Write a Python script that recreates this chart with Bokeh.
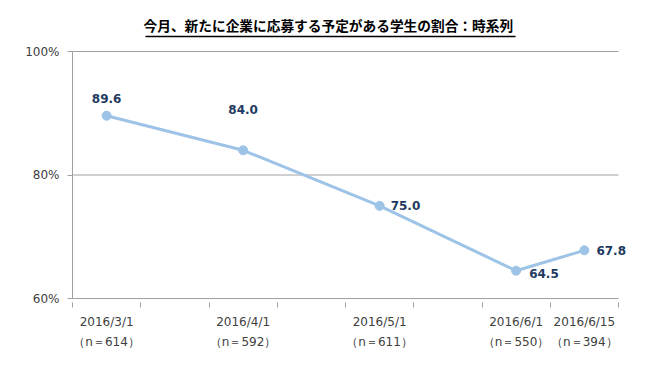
from bokeh.plotting import figure
from bokeh.models import Range1d, FixedTicker, LinearAxis, ColumnDataSource, LabelSet
from bokeh.core.properties import value
from bokeh.embed import file_html
from bokeh.resources import INLINE

# ---- data ----
title_text = "今月、新たに企業に応募する予定がある学生の割合：時系列"
dates = ["2016/3/1", "2016/4/1", "2016/5/1", "2016/6/1", "2016/6/15"]
sample_sizes = ["（n＝614）", "（n＝592）", "（n＝611）", "（n＝550）", "（n＝394）"]
half_month_slot = [0, 2, 4, 6, 7]          # position on a half-month category axis (3/1 .. 6/15)
n_slots = 8
values = [89.6, 84.0, 75.0, 64.5, 67.8]
y_ticks = [60, 80, 100]
y_tick_labels = ["60%", "80%", "100%"]

# ---- styling / layout ----
LINE = "#9DC3E6"
LABEL_COLOR = "#1F3A60"
AXIS_TEXT = "#404040"
GRID = "#A0A0A0"
FONT = "DejaVu Sans"
lbl_dx = [0, 0, 11, 13, 12]
lbl_dy = [17, 41, 0, -3, 0]
lbl_align = ["center", "center", "left", "left", "left"]

W, H = 634, 351
LEFT, AXIS_RIGHT = 72, 618
Y_TOP_PX, Y_BOT_PX = 51, 298          # pixel rows of 100% and 60%
PAD = 2                               # frame padding so edge gridlines are not clipped
slot_px = (AXIS_RIGHT - LEFT) / n_slots
x_end = (W - LEFT) / slot_px            # frame runs to the canvas edge so labels are not clipped
y0, y1 = y_ticks[0], y_ticks[-1]
px_per_y = (Y_BOT_PX - Y_TOP_PX) / (y1 - y0)
pad_y = PAD / px_per_y

xs = [s + 0.5 for s in half_month_slot]

p = figure(width=W, height=H, output_backend="svg", toolbar_location=None,
           x_range=Range1d(0, x_end), y_range=Range1d(y0 - pad_y, y1 + pad_y),
           min_border_left=LEFT, min_border_right=0,
           min_border_top=Y_TOP_PX - PAD, min_border_bottom=H - Y_BOT_PX - PAD,
           x_axis_type=None, y_axis_type=None, title=title_text)
p.outline_line_color = None
p.background_fill_color = "white"
p.title.align = "left"
p.title.offset = 71
p.title.text_font = "Noto Sans CJK JP"
p.title.text_font_size = "13.7px"
p.title.text_font_style = "bold"
p.title.text_color = "black"
p.title.standoff = 3

# spacer panel between frame and title underline (white tick in an empty corner)
spacer = LinearAxis(ticker=FixedTicker(ticks=[x_end - 0.05], minor_ticks=[]))
spacer.axis_line_color = None
spacer.major_tick_line_color = "white"
spacer.major_tick_in = 0
spacer.major_tick_out = 13
spacer.major_label_overrides = {x_end - 0.05: ""}
spacer.major_label_standoff = 0
spacer.major_label_text_font_size = "0px"
p.add_layout(spacer, "above")

# title underline: an axis line limited by bounds
ul_left, ul_right = 145, 515
ul = LinearAxis(ticker=FixedTicker(ticks=[], minor_ticks=[]),
                bounds=((ul_left - LEFT) / slot_px, (ul_right - LEFT) / slot_px))
ul.axis_line_color = "black"
ul.axis_line_width = 1.5
ul.major_tick_line_color = None
ul.minor_tick_line_color = None
ul.major_label_text_font_size = "0px"
ul.major_label_standoff = 0
p.add_layout(ul, "above")

# y axis
yax = LinearAxis(ticker=FixedTicker(ticks=y_ticks, minor_ticks=[]), bounds=(y0, y1))
yax.major_label_overrides = {t: l for t, l in zip(y_ticks, y_tick_labels)}
yax.axis_line_color = GRID
yax.major_tick_line_color = GRID
yax.major_tick_in = 0
yax.major_tick_out = 5
yax.major_label_standoff = 8
yax.major_label_text_font = FONT
yax.major_label_text_font_size = "12px"
yax.major_label_text_color = AXIS_TEXT
p.add_layout(yax, "left")
p.ygrid.grid_line_color = None

# horizontal gridlines and x-axis line, limited to the category span
p.segment(x0=[0] * len(y_ticks), x1=[n_slots] * len(y_ticks), y0=y_ticks, y1=y_ticks,
          line_color=GRID, line_width=1)

# x axis: tick marks at slot boundaries, date labels at slot centres
xax = LinearAxis(ticker=FixedTicker(ticks=xs, minor_ticks=list(range(n_slots + 1))))
xax.major_label_overrides = {x: d for x, d in zip(xs, dates)}
xax.axis_line_color = None
xax.major_tick_line_color = None
xax.minor_tick_line_color = GRID
xax.minor_tick_in = -PAD
xax.minor_tick_out = 5 + PAD
xax.major_tick_out = 0
xax.major_tick_in = 0
xax.major_label_standoff = 7
xax.major_label_text_font = FONT
xax.major_label_text_font_size = "12px"
xax.major_label_text_color = AXIS_TEXT
p.add_layout(xax, "below")

nax = LinearAxis(ticker=FixedTicker(ticks=xs, minor_ticks=[]))
nax.major_label_overrides = {x: n for x, n in zip(xs, sample_sizes)}
nax.axis_line_color = None
nax.major_tick_line_color = None
nax.minor_tick_line_color = None
nax.major_tick_out = 0
nax.major_tick_in = 0
nax.major_label_standoff = 3
nax.major_label_text_font = FONT
nax.major_label_text_font_size = "12px"
nax.major_label_text_color = AXIS_TEXT
p.add_layout(nax, "below")

src = ColumnDataSource(dict(x=xs, y=values, t=[f"{v:.1f}" for v in values],
                            dx=lbl_dx, dy=lbl_dy, al=lbl_align))
p.line("x", "y", source=src, line_color=LINE, line_width=3)
p.scatter("x", "y", source=src, size=9, fill_color=LINE, line_color=LINE)

labels = LabelSet(x="x", y="y", text="t", source=src, x_offset="dx", y_offset="dy",
                  text_align="al", text_baseline="middle", text_font=value(FONT),
                  text_font_size=value("12px"), text_font_style=value("bold"),
                  text_color=LABEL_COLOR)
p.add_layout(labels)

open("out.html", "w").write(file_html(p, INLINE))
